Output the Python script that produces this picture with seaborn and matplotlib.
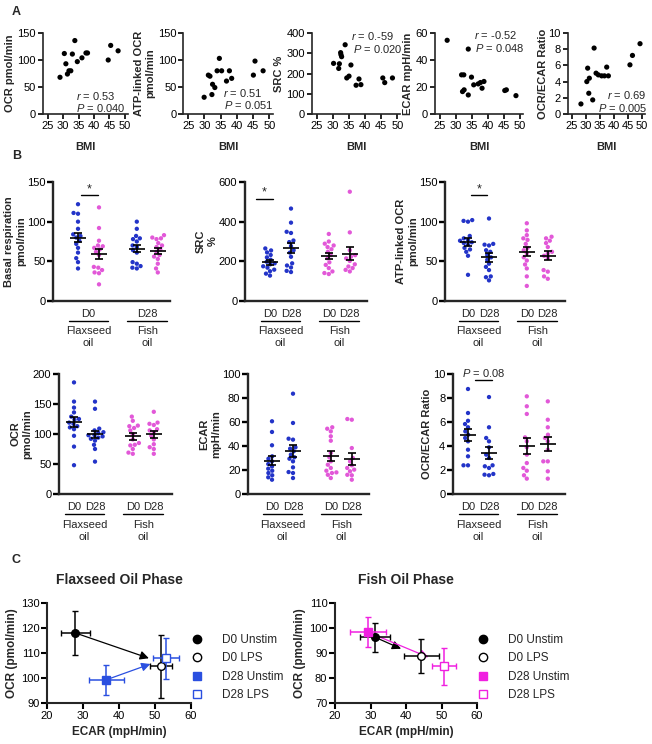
import numpy as np
import pandas as pd
import seaborn as sns
import matplotlib
matplotlib.use("Agg")
from matplotlib import pyplot as plt
from matplotlib.lines import Line2D

sns.set_theme(style="ticks")
plt.rcParams['font.family'] = ['Liberation Sans', 'DejaVu Sans']
plt.rcParams['mathtext.fontset'] = 'custom'
plt.rcParams['mathtext.it'] = 'Liberation Sans:italic'
plt.rcParams['mathtext.rm'] = 'Liberation Sans'

BLUE = '#2334c8'
PINK = '#e258d8'
C_BLUE = '#2a4fe0'
C_MAG = '#f020e0'

# ---- panel A: metabolic readouts vs BMI ----
a_ocr_bmi = [29.0, 30.4, 30.9, 31.4, 31.9, 32.5, 33.0, 33.8, 34.6, 36.1, 37.4, 37.9, 44.6, 45.4, 47.8]
a_ocr = [68, 112, 93, 74, 80, 80, 111, 136, 97, 104, 113, 113, 100, 127, 117]
a_atp_bmi = [29.9, 31.2, 31.7, 32.3, 32.5, 33.2, 33.9, 34.6, 35.3, 36.8, 37.7, 38.4, 45.1, 45.6, 48.1]
a_atp = [31, 72, 70, 36, 55, 49, 80, 103, 80, 61, 80, 66, 72, 98, 80]
a_src_bmi = [30.2, 32.0, 31.8, 32.4, 32.5, 32.7, 33.8, 34.3, 35.0, 35.6, 37.2, 38.1, 38.7, 45.5, 46.1, 48.5]
a_src = [250, 248, 225, 303, 293, 283, 342, 178, 187, 242, 142, 173, 145, 178, 155, 178]
a_ecar_bmi = [27.3, 31.8, 32.5, 32.1, 32.6, 33.9, 33.9, 34.9, 35.6, 37.0, 37.7, 38.2, 38.8, 45.3, 45.8, 48.8]
a_ecar = [54.6, 29, 29, 16.6, 17.9, 48.1, 14.1, 27.3, 21.6, 22.3, 23.3, 19.1, 24.1, 17.4, 17.9, 13.6]
a_ratio_bmi = [28.3, 30.4, 30.7, 31.3, 31.1, 32.5, 33.0, 33.7, 34.5, 35.7, 36.7, 37.5, 38.1, 45.8, 46.7, 49.4]
a_ratio = [1.24, 4.0, 5.66, 4.42, 2.56, 1.74, 8.14, 5.04, 4.83, 4.71, 4.71, 5.79, 4.71, 6.07, 7.23, 8.68]
a_stats = [("0.53", "0.040"), ("0.51", "0.051"), ("0.-59", "0.020"), ("-0.52", "0.048"), ("0.69", "0.005")]
a_ylabels = ["OCR pmol/min", "ATP-linked OCR\npmol/min", "SRC %", "ECAR mpH/min", "OCR/ECAR Ratio"]
a_ytops = [150, 150, 400, 60, 10]
a_ysteps = [50, 50, 100, 20, 2]

# ---- panel B: D0 / D28 per supplement phase ----
b_groups = ["Flax D0", "Flax D28", "Fish D0", "Fish D28"]
basal = [[122, 111, 110, 100, 91, 84, 82, 80, 76, 72, 67, 61, 54, 49, 41],
         [118, 92, 76, 70, 69, 67, 65, 62, 58, 43, 42, 39, 36, 35, 21],
         [100, 91, 82, 79, 78, 75, 70, 68, 64, 61, 49, 47, 44, 42, 41],
         [83, 80, 79, 78, 73, 70, 68, 65, 62, 58, 56, 53, 47, 41, 36]]
src = [[265, 255, 245, 232, 220, 208, 198, 190, 185, 175, 168, 158, 150, 138, 128],
       [466, 395, 349, 343, 305, 297, 277, 256, 244, 223, 190, 179, 169, 152, 146],
       [338, 300, 289, 280, 272, 261, 248, 231, 215, 195, 182, 166, 149, 141, 136],
       [551, 346, 256, 231, 223, 215, 202, 185, 174, 166, 157, 149]]
atp = [[102, 101, 100, 82, 79, 77, 76, 74, 73, 71, 67, 65, 62, 57, 33],
       [104, 72, 71, 70, 64, 62, 58, 55, 52, 47, 43, 39, 31, 30, 26],
       [98, 89, 83, 79, 77, 72, 67, 64, 60, 55, 51, 46, 41, 31, 19],
       [81, 79, 76, 73, 68, 62, 60, 57, 54, 39, 37, 31, 28]]
ocr = [[186, 154, 144, 136, 129, 125, 124, 119, 117, 113, 111, 108, 97, 79, 48],
       [154, 142, 109, 106, 103, 102, 98, 98, 96, 94, 92, 89, 82, 75, 54],
       [129, 122, 114, 113, 110, 106, 100, 91, 85, 82, 81, 75, 69, 67],
       [137, 119, 117, 115, 108, 106, 103, 97, 91, 83, 78, 75, 67]]
ecar = [[60.6, 51.7, 40.6, 31.4, 29.4, 27.2, 25.0, 23.0, 21.1, 19.4, 17.5, 15.6, 13.9, 11.9],
        [83.6, 59.2, 46.1, 45.3, 38.9, 37.8, 35.6, 32.8, 30.6, 29.4, 27.2, 22.2, 18.3, 17.5, 13.3],
        [55.6, 54.4, 52.2, 48.1, 44.4, 34.2, 30.6, 27.2, 24.4, 21.7, 19.4, 18.0, 17.5, 16.0, 13.3],
        [62.5, 61.9, 38.3, 30.0, 27.2, 23.9, 21.7, 20.3, 18.9, 16.0, 15.6, 11.9]]
ratio = [[8.75, 6.75, 6.1, 5.83, 5.56, 5.22, 4.94, 4.67, 4.39, 3.69, 3.14, 2.39, 2.39],
         [8.08, 5.56, 4.67, 4.39, 3.89, 3.28, 3.0, 2.39, 2.31, 2.17, 1.67, 1.61, 1.56],
         [8.14, 7.31, 6.67, 4.72, 4.39, 3.89, 3.28, 2.58, 2.17, 1.94, 1.56, 1.28],
         [7.72, 6.19, 5.56, 4.94, 4.67, 4.39, 3.69, 2.72, 2.72, 1.89, 1.28]]
b_data = [basal, src, atp, ocr, ecar, ratio]
b_ylabels = ["Basal respiration\npmol/min", "SRC\n%", "ATP-linked OCR\npmol/min",
             "OCR\npmol/min", "ECAR\nmpH/min", "OCR/ECAR Ratio"]
b_ytops = [150, 600, 150, 200, 100, 10]
b_ysteps = [50, 200, 50, 50, 20, 2]
b_colors = [["blue", "pink", "blue", "pink"]] + [["blue", "blue", "pink", "pink"]] * 5

# ---- panel C: energy maps (mean +/- SEM) ----
c_conds = ["D0 Unstim", "D0 LPS", "D28 Unstim", "D28 LPS"]
flax_ecar = [27.9, 51.7, 36.5, 53.1]
flax_ecar_err = [4.0, 3.0, 4.8, 3.6]
flax_ocr = [118.0, 104.7, 99.3, 108.0]
flax_ocr_err = [8.8, 12.7, 6.0, 8.2]
fish_ecar = [31.3, 44.3, 29.2, 50.7]
fish_ecar_err = [4.3, 5.0, 5.1, 3.4]
fish_ocr = [96.3, 88.9, 98.4, 84.7]
fish_ocr_err = [5.9, 6.9, 6.0, 7.4]
flax_arrow_ends = [(48.3, 107.9), (48.7, 105.6)]
fish_arrow_ends = [(38.6, 91.7), (46.3, 88.3)]

W, H = 652, 744
fig = plt.figure(figsize=(W / 100, H / 100), dpi=100)


def px_axes(l, t, r, b):
    return fig.add_axes([l / W, 1 - b / H, (r - l) / W, (b - t) / H])


def style(ax, lw, tl):
    sns.despine(ax=ax)
    for s in ['left', 'bottom']:
        ax.spines[s].set_linewidth(lw)
    ax.tick_params(width=lw, length=tl, labelsize=8, pad=1.5, colors='black')


# panel A
a_boxes = [(43, 33, 128, 114), (183.4, 33, 272.5, 114), (312, 33, 400.5, 114),
           (435, 33, 523, 114), (567.5, 33, 644.5, 114)]
a_pos = [((0.39, 0.225), (0.39, 0.07)), ((0.44, 0.26), (0.46, 0.105)),
         ((0.44, 0.96), (0.46, 0.805)), ((0.44, 0.97), (0.46, 0.815)),
         ((0.51, 0.235), (0.40, 0.08))]
a_xy = [(a_ocr_bmi, a_ocr), (a_atp_bmi, a_atp), (a_src_bmi, a_src),
        (a_ecar_bmi, a_ecar), (a_ratio_bmi, a_ratio)]
a_pads = [2, 2, 2, 2, 0]
for i, box in enumerate(a_boxes):
    ax = px_axes(*box)
    xs, ys = a_xy[i]
    sns.scatterplot(x=xs, y=ys, color='black', s=14, edgecolor='none', ax=ax)
    ax.set_xlim(23.5, 51)
    ax.set_ylim(0, a_ytops[i])
    ax.set_xticks(range(25, 51, 5))
    ax.set_yticks(np.arange(0, a_ytops[i] + 0.01, a_ysteps[i]))
    style(ax, 1.2, 3.5)
    ax.set_xlabel("BMI", fontsize=8, fontweight='bold', labelpad=8)
    ax.set_ylabel(a_ylabels[i], fontsize=8, fontweight='bold', labelpad=a_pads[i], linespacing=1.2)
    r, p = a_stats[i]
    (rx, ry), (px, py) = a_pos[i]
    ax.text(rx, ry, f"$r$ = {r}", transform=ax.transAxes, fontsize=8, va='center')
    ax.text(px, py, f"$P$ = {p}", transform=ax.transAxes, fontsize=8, va='center')

# panel B
b_boxes = [(53, 182, 170, 301), (245, 182, 367, 301), (445, 182, 565, 301),
           (59, 374, 172, 494), (248, 374, 369, 494), (453, 374, 565, 494)]
b_d0 = [78, 270, 468, 74, 272, 468]
positions = [0, 1, 2.8, 3.8]
palette = {"blue": BLUE, "pink": PINK}
sig = {0: ([0.13, 0.94], 133, "*", 141),
       1: ([-0.67, 0.14], 513, "*", 548),
       2: ([0.13, 0.92], 133, "*", 141),
       5: ([0.33, 1.14], 9.5, "$P$ = 0.08", 10.1)}

for i, box in enumerate(b_boxes):
    ax = px_axes(*box)
    rows = []
    for g, vals in enumerate(b_data[i]):
        for v in vals:
            rows.append({"pos": positions[g], "value": v, "c": b_colors[i][g]})
    df = pd.DataFrame(rows)
    sns.swarmplot(data=df, x="pos", y="value", hue="c", palette=palette, native_scale=True,
                  size=3.1, linewidth=0, legend=False, ax=ax, orient='x')
    for g, vals in enumerate(b_data[i]):
        m = np.mean(vals)
        sem = np.std(vals, ddof=1) / np.sqrt(len(vals))
        ax.hlines(m, positions[g] - 0.38, positions[g] + 0.38, color='black', lw=1.2, zorder=5)
        ax.errorbar(positions[g], m, yerr=sem, fmt='none', ecolor='black', elinewidth=1.2,
                    capsize=3, capthick=1.2, zorder=5)
    l, t, r, b = box
    ax.set_xlim(-(b_d0[i] - l) / 21, (r - b_d0[i]) / 21)
    ax.set_ylim(0, b_ytops[i])
    ax.set_yticks(np.arange(0, b_ytops[i] + 0.01, b_ysteps[i]))
    ax.set_xticks([])
    style(ax, 1.7, 4)
    ax.set_xlabel("")
    ax.set_ylabel(b_ylabels[i], fontsize=8, fontweight='bold', linespacing=1.25, labelpad=0.5)

    # group labels under the x axis
    h = b - t
    tr = ax.get_xaxis_transform()
    if i == 0:
        tops = [(0.5, "D0"), (3.3, "D28")]
    else:
        tops = [(0, "D0"), (1, "D28"), (2.8, "D0"), (3.8, "D28")]
    for x, s in tops:
        ax.text(x, -13 / h, s, transform=tr, ha='center', va='center', fontsize=8)
    for c, name in [(0.5, "Flaxseed\noil"), (3.3, "Fish\noil")]:
        ax.plot([c - 0.95, c + 0.95], [-19.5 / h] * 2, transform=tr, color='black',
                lw=1.0, clip_on=False)
        ax.text(c, -36.5 / h, name, transform=tr, ha='center', va='center', fontsize=8,
                linespacing=1.25)
    if i in sig:
        xs, y, s, ys = sig[i]
        ax.plot(xs, [y, y], color='black', lw=1.0, clip_on=False)
        ax.text(np.mean(xs), ys, s, ha='center', va='center',
                fontsize=8 if s != "*" else 9, clip_on=False)

# panel C
c_boxes = [(47, 603, 191, 703), (335, 603, 477, 703)]
c_titles = ["Flaxseed Oil Phase", "Fish Oil Phase"]
c_sets = [(flax_ecar, flax_ecar_err, flax_ocr, flax_ocr_err, C_BLUE, flax_arrow_ends, (90, 130)),
          (fish_ecar, fish_ecar_err, fish_ocr, fish_ocr_err, C_MAG, fish_arrow_ends, (70, 110))]
for k, box in enumerate(c_boxes):
    ax = px_axes(*box)
    ex, exe, oy, oye, col, ends, ylim = c_sets[k]
    cols = ['black', 'black', col, col]
    markers = ['o', 'o', 's', 's']
    faces = ['black', 'white', col, 'white']
    # arrows from unstimulated toward the LPS condition
    for j, start in enumerate([0, 2]):
        ax.annotate("", xy=ends[j], xytext=(ex[start], oy[start]),
                    arrowprops=dict(arrowstyle='-|>', color=cols[start], lw=0.9,
                                    mutation_scale=13, shrinkA=0, shrinkB=0), zorder=3)
    handles = []
    for j in range(4):
        ax.errorbar(ex[j], oy[j], xerr=exe[j], yerr=oye[j], fmt=markers[j], color=cols[j],
                    mfc=faces[j], mec=cols[j], ms=5.5, mew=1.0, elinewidth=1.1,
                    capsize=2.5, capthick=1.1, zorder=4)
        handles.append(Line2D([], [], marker=markers[j], linestyle='none', color=cols[j],
                              mfc=faces[j], mec=cols[j], ms=6, mew=1.0, label=c_conds[j]))
    ax.set_xlim(20, 60)
    ax.set_ylim(*ylim)
    ax.set_xticks(range(20, 61, 10))
    ax.set_yticks(range(ylim[0], ylim[1] + 1, 10))
    style(ax, 1.5, 4)
    ax.set_xlabel("ECAR (mpH/min)", fontsize=8.5, fontweight='bold', labelpad=3.5)
    ax.set_ylabel("OCR (pmol/min)", fontsize=8.5, fontweight='bold', labelpad=2)
    ax.set_title(c_titles[k], fontsize=10, fontweight='bold', pad=14)
    ax.legend(handles=handles, loc='center left', bbox_to_anchor=(1.0, 0.355), frameon=False,
              fontsize=8.5, handlelength=1.0, handletextpad=1.6, borderpad=0, borderaxespad=0,
              labelspacing=0.55)

for letter, y in [("A", 12), ("B", 156), ("C", 560)]:
    fig.text(12 / W, 1 - y / H, letter, fontsize=9, fontweight='bold', va='center')

fig.savefig("out.png", dpi=100)
